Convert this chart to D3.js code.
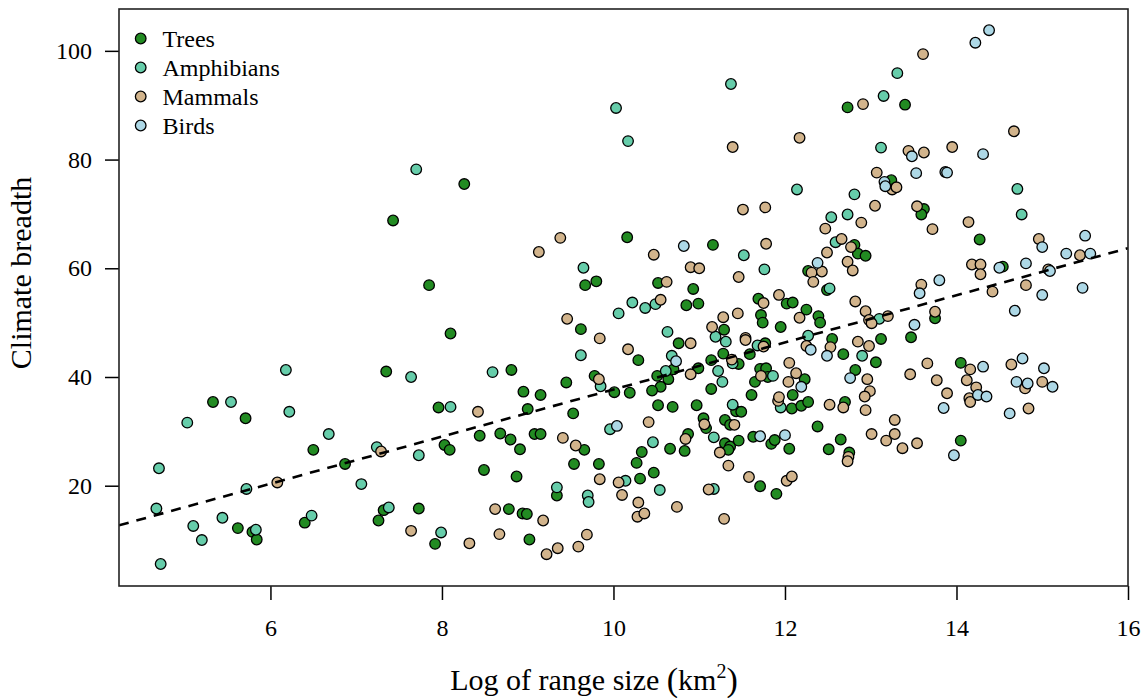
<!DOCTYPE html>
<html>
<head>
<meta charset="utf-8">
<script src="https://cdn.jsdelivr.net/npm/d3@7"></script>
<style>
  body { margin: 0; background: #fff; }
  svg { display: block; }
  text { font-family: "Liberation Serif", "Times New Roman", serif; fill: #000; }
</style>
</head>
<body>
<svg id="chart" width="1147" height="698"></svg>
<script>
// Log range size (x) and climate breadth (y) per species, by group
const trees = [
  [8.26,75.5],[12.73,89.6],[13.40,90.1],[13.24,76.2],[5.33,35.4],[5.71,32.4],[6.50,26.6],[6.87,24.0],
  [5.62,12.2],[5.79,11.5],[5.84,10.1],[6.40,13.2],[7.43,68.8],[10.16,65.7],[9.80,57.6],[9.67,56.9],
  [7.85,56.9],[9.62,48.8],[8.10,48.0],[7.35,41.0],[8.81,41.3],[9.45,39.0],[9.78,40.2],[10.01,37.2],
  [8.95,37.3],[9.15,36.7],[7.96,34.4],[9.00,34.1],[9.53,33.3],[8.03,27.5],[8.09,26.6],[8.44,29.2],
  [8.68,29.6],[8.80,28.5],[8.91,26.7],[9.08,29.5],[9.15,29.5],[9.66,26.6],[8.49,22.9],[8.87,21.7],
  [9.54,24.0],[9.83,24.0],[9.34,18.2],[7.32,15.5],[7.26,13.6],[7.73,15.8],[8.78,15.7],[8.94,14.9],
  [8.99,14.8],[7.92,9.3],[9.02,10.1],
  [10.33,26.2],[10.27,24.2],[10.31,21.3],[10.47,22.4],[10.66,26.8],[10.83,26.4],[10.87,29.5],[11.05,32.4],
  [11.08,30.6],[10.97,34.8],[10.52,34.8],[10.69,34.5],[11.43,33.7],[11.49,33.6],[11.30,32.1],[11.36,31.2],
  [11.30,27.8],[11.36,27.2],[11.34,26.6],[11.46,28.3],[11.63,29.0],[11.84,27.7],[11.88,28.4],[12.05,26.8],
  [11.71,19.9],[11.90,18.5],[12.38,30.9],[12.51,26.7],[12.65,28.5],[12.75,26.1],
  [11.16,64.3],[10.52,57.3],[10.93,56.2],[10.85,53.2],[10.99,53.5],[12.81,64.3],[12.85,62.7],[12.94,62.3],
  [12.27,59.5],[12.49,56.0],[11.69,54.4],[12.02,53.5],[12.09,53.7],[11.72,51.4],[11.74,50.0],[12.25,52.4],
  [12.39,51.2],[12.41,50.0],[11.95,49.2],[11.29,48.7],[11.77,46.2],[10.76,46.2],[10.29,43.1],[10.51,40.2],
  [10.64,39.6],[10.55,38.2],[10.45,37.5],[10.70,41.4],[10.19,37.1],[10.99,41.6],[11.14,43.1],[11.14,37.8],
  [11.28,44.3],[11.46,42.4],[11.59,44.2],[11.71,41.5],[11.78,41.6],[11.80,40.0],[11.65,39.1],[12.23,39.6],
  [12.55,47.0],[12.68,44.2],[12.82,41.3],[12.08,34.2],[12.19,34.7],[12.27,35.4],[12.70,35.4],[11.61,36.7],
  [12.09,36.7],
  [13.62,70.9],[13.59,69.9],[14.27,65.3],[14.54,60.3],[13.75,50.8],[13.47,47.3],[13.12,47.0],[13.06,42.7],
  [14.05,42.6],[14.05,28.3]
];

const amphibians = [
  [7.70,78.2],[10.03,89.5],[10.17,83.4],[11.37,93.9],[12.14,74.5],[12.81,73.6],[13.31,95.9],[13.15,91.7],
  [13.12,82.2],[14.71,74.6],[6.18,41.3],[5.54,35.4],[6.22,33.6],[5.03,31.6],[6.68,29.5],[4.70,23.2],
  [5.72,19.4],[7.06,20.3],[4.67,15.8],[5.44,14.1],[5.10,12.6],[5.20,10.0],[5.83,11.9],[6.48,14.5],
  [4.72,5.6],[9.65,60.1],[10.06,51.7],[9.62,44.0],[7.64,40.0],[8.59,40.9],[9.85,38.3],[8.10,34.5],
  [9.96,30.4],[7.24,27.1],[7.73,25.6],[10.14,20.9],[9.34,19.7],[9.70,18.2],[9.71,17.0],[7.38,16.0],
  [7.99,11.4],[10.46,28.0],[10.54,19.2],[11.17,28.9],[11.39,34.9],[11.17,19.4],[11.95,34.4],
  [12.54,69.4],[12.73,69.9],[11.52,62.4],[11.76,59.8],[10.22,53.7],[10.37,52.7],[10.49,53.4],[12.59,64.8],
  [12.52,56.3],[10.63,48.3],[11.19,47.4],[11.31,46.5],[11.68,45.8],[10.68,43.9],[10.61,41.1],[11.22,41.1],
  [11.27,39.1],[11.39,42.5],[11.86,40.2],[12.27,47.6],[12.90,43.9],
  [14.76,69.9],[13.10,50.7]
];

const mammals = [
  [11.39,82.3],[12.17,84.0],[12.91,90.2],[13.07,77.6],[13.61,99.4],[14.67,85.2],[13.44,81.6],[13.62,81.3],
  [13.95,82.3],[13.25,74.5],[13.30,74.9],[6.08,20.6],[9.38,65.6],[9.13,63.0],[9.46,50.7],[9.84,47.1],
  [10.17,45.1],[9.83,39.6],[8.42,33.6],[7.29,26.3],[9.41,28.8],[9.56,27.4],[9.84,21.2],[10.06,20.6],
  [10.10,18.3],[8.62,15.7],[9.18,13.6],[7.64,11.7],[8.32,9.4],[8.67,11.1],[9.22,7.4],[9.35,8.5],
  [9.59,8.8],[9.69,11.0],
  [10.41,31.7],[10.29,16.9],[10.28,14.3],[10.36,14.9],[10.74,16.1],[10.84,28.6],[11.06,31.3],[11.41,31.2],
  [11.24,26.1],[11.34,23.7],[11.58,21.6],[12.02,20.9],[12.08,21.7],[11.11,19.3],[11.29,13.9],[12.74,25.3],
  [12.73,24.5],[13.01,29.5],[11.92,35.6],[12.52,34.9],[12.68,34.4],[12.94,33.9],
  [11.51,70.8],[11.77,71.2],[12.47,67.3],[12.89,68.4],[13.05,71.5],[10.47,62.5],[11.78,64.5],[11.46,58.4],
  [10.90,60.2],[11.00,60.0],[10.62,57.5],[10.55,54.2],[12.66,65.4],[12.77,63.9],[12.49,62.9],[12.31,59.2],
  [12.43,59.4],[12.33,57.5],[12.73,61.2],[12.79,59.6],[11.75,53.6],[11.93,55.1],[11.28,51.0],[11.45,51.7],
  [12.17,50.9],[12.82,53.9],[12.94,52.1],[12.98,50.5],[13.01,49.9],[11.15,49.2],[11.54,47.2],[11.54,46.8],
  [11.75,45.6],[10.90,46.2],[10.90,40.5],[11.38,43.2],[11.72,40.2],[12.05,42.6],[12.13,40.7],[12.04,39.1],
  [12.25,45.7],[12.53,45.5],[12.85,46.5],[12.98,45.7],[12.96,39.6],[12.99,37.4],[12.93,36.4],[11.93,36.3],
  [13.54,71.4],[14.14,68.5],[13.72,67.2],[14.96,65.4],[15.44,62.4],[15.07,59.8],[14.18,60.7],[14.28,60.7],
  [14.28,58.9],[14.81,56.9],[14.42,55.7],[13.59,57.0],[13.75,52.0],[13.20,51.2],[13.66,42.5],[14.16,41.4],
  [13.46,40.5],[13.77,39.4],[14.12,39.4],[14.23,38.1],[13.89,37.0],[14.15,36.1],[14.64,42.3],[14.80,37.9],
  [15.00,39.1],
  [14.16,35.4],[14.84,34.2],[13.28,32.1],[13.18,28.3],[13.28,29.5],[13.37,26.9],[13.54,27.8]
];

const birds = [
  [14.38,103.8],[14.22,101.5],[13.48,80.6],[14.31,81.0],[13.53,77.5],[13.87,77.7],[13.89,77.6],[13.16,75.9],
  [13.17,75.1],[10.04,31.0],[10.73,42.9],[11.71,29.1],[12.00,29.3],[10.82,64.1],[12.38,61.0],[12.30,45.0],
  [12.49,43.9],[12.76,39.8],[12.19,38.2],
  [15.00,63.9],[15.50,66.0],[15.28,62.7],[15.56,62.7],[15.47,56.4],[15.09,59.5],[14.50,60.1],[14.81,60.9],
  [15.00,55.1],[14.68,52.2],[13.57,55.4],[13.80,57.8],[13.51,49.6],[14.31,41.9],[14.25,36.7],[14.35,36.4],
  [14.77,43.4],[15.02,41.6],[14.70,39.1],[14.83,38.8],[15.12,38.2],
  [13.85,34.3],[14.62,33.3],[13.97,25.6]
];

const groupNames = ["Trees", "Amphibians", "Mammals", "Birds"];
const groupColors = ["#228B22", "#66CDAA", "#D2B48C", "#ADD8E6"];
const groupData = [trees, amphibians, mammals, birds];

const xTicks = [6, 8, 10, 12, 14, 16];
const yTicks = [20, 40, 60, 80, 100];

// Least-squares fit of climate breadth on log range size
const fitIntercept = -5.63;
const fitSlope = 4.333;

(function draw() {
  const svg = d3.select("#chart");
  const pLeft = 119, pRight = 1128, pTop = 9, pBottom = 586;
  const serif = "'Liberation Serif','Times New Roman',serif";

  const x = d3.scaleLinear().domain([4.234, 16.0]).range([pLeft, pRight]);
  const y = d3.scaleLinear().domain([1.55, 107.7]).range([pBottom, pTop]);

  svg.append("defs").append("clipPath").attr("id", "plotClip")
    .append("rect").attr("x", pLeft).attr("y", pTop)
    .attr("width", pRight - pLeft).attr("height", pBottom - pTop);

  // Axes
  const xAxis = svg.append("g")
    .attr("transform", `translate(0,${pBottom})`)
    .call(d3.axisBottom(x).tickValues(xTicks).tickFormat(d3.format("d")).tickSize(14).tickPadding(19));
  const yAxis = svg.append("g")
    .attr("transform", `translate(${pLeft},0)`)
    .call(d3.axisLeft(y).tickValues(yTicks).tickFormat(d3.format("d")).tickSize(14).tickPadding(13));
  [xAxis, yAxis].forEach(g => {
    g.select(".domain").remove();
    g.selectAll(".tick line").attr("stroke", "#000").attr("stroke-width", 1.5);
    g.selectAll(".tick text").attr("font-size", 24).attr("fill", "#000")
      .style("font-family", serif);
  });

  // Points
  const pts = svg.append("g").attr("clip-path", "url(#plotClip)");
  groupData.forEach((data, i) => {
    pts.selectAll(null).data(data).enter().append("circle")
      .attr("cx", d => x(d[0]))
      .attr("cy", d => y(d[1]))
      .attr("r", 5.3)
      .attr("fill", groupColors[i])
      .attr("stroke", "#000")
      .attr("stroke-width", 1.3);
  });

  // Fitted line
  const xd = x.domain();
  pts.append("line")
    .attr("x1", x(xd[0])).attr("y1", y(fitIntercept + fitSlope * xd[0]))
    .attr("x2", x(xd[1])).attr("y2", y(fitIntercept + fitSlope * xd[1]))
    .attr("stroke", "#000").attr("stroke-width", 2.6)
    .attr("stroke-dasharray", "10,8");

  // Frame
  svg.append("rect")
    .attr("x", pLeft).attr("y", pTop)
    .attr("width", pRight - pLeft).attr("height", pBottom - pTop)
    .attr("fill", "none").attr("stroke", "#222").attr("stroke-width", 1.6);

  // Legend
  const legend = svg.append("g");
  groupNames.forEach((name, i) => {
    const ly = 38.5 + i * 29;
    legend.append("circle").attr("cx", 140.7).attr("cy", ly).attr("r", 5.3)
      .attr("fill", groupColors[i]).attr("stroke", "#000").attr("stroke-width", 1.3);
    legend.append("text").attr("x", 162.5).attr("y", ly + 8)
      .attr("font-size", 24).text(name);
  });

  // Axis titles
  const xTitle = svg.append("text")
    .attr("x", 594).attr("y", 690)
    .attr("text-anchor", "middle").attr("font-size", 30);
  xTitle.append("tspan").text("Log of range size ");
  xTitle.append("tspan").attr("font-size", 34).attr("dy", 1).text("(");
  xTitle.append("tspan").attr("dy", -1).text("km");
  xTitle.append("tspan").attr("font-size", 20).attr("dy", -12).text("2");
  xTitle.append("tspan").attr("font-size", 34).attr("dy", 13).text(")");

  svg.append("text")
    .attr("transform", "translate(31,273) rotate(-90)")
    .attr("text-anchor", "middle").attr("font-size", 30)
    .text("Climate breadth");
})();
</script>
</body>
</html>
